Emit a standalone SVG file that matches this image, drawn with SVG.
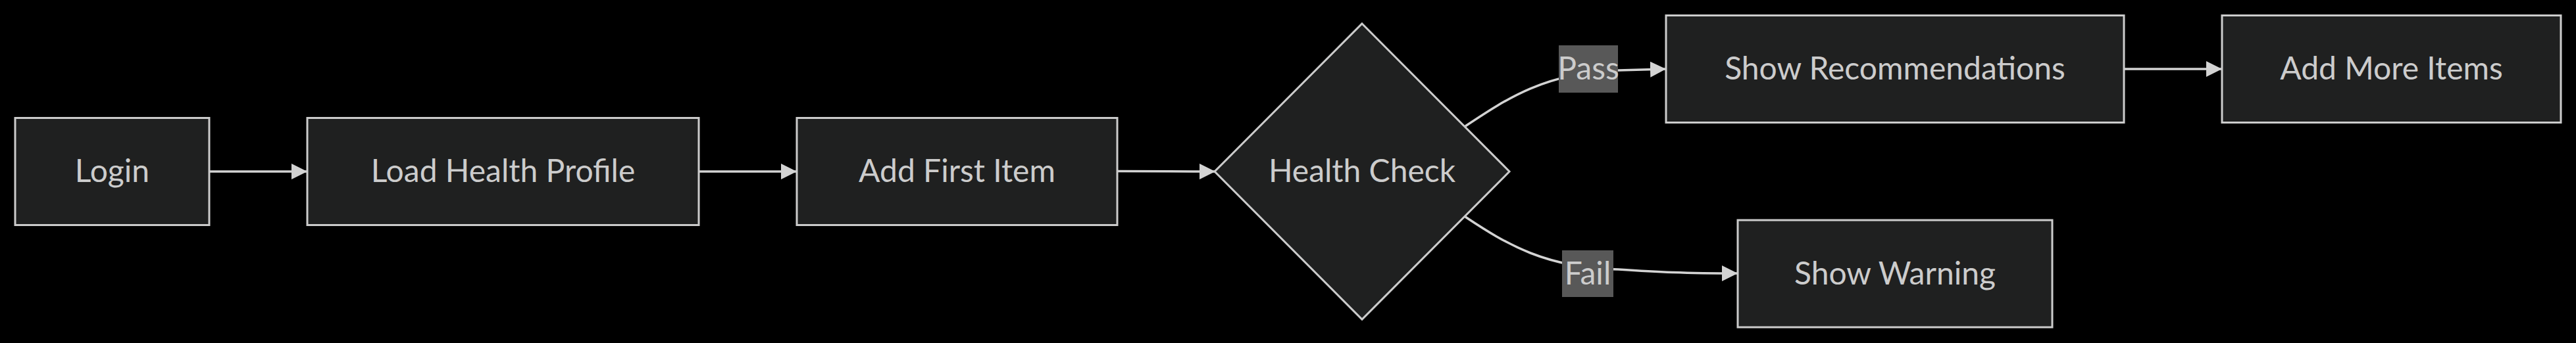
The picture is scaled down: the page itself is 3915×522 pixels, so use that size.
<svg xmlns="http://www.w3.org/2000/svg" width="3915" height="522" viewBox="0 0 3915 522">
<style>
.bg{fill:#000}
.node{fill:#1f2020;stroke:#cccccc;stroke-width:3}
.txt{font-family:Lato,"Liberation Sans",sans-serif;font-size:48px;fill:#cccccc;text-anchor:middle}
.edge{fill:none;stroke:#d3d3d3;stroke-width:3.5}
.lbl{fill:#585858}
</style>
<defs>
<marker id="arrow" viewBox="0 0 10 10" refX="10" refY="5" markerUnits="userSpaceOnUse" markerWidth="24" markerHeight="24" orient="auto">
<path d="M0,0 L10,5 L0,10 z" fill="#d3d3d3"/>
</marker>
</defs>
<rect class="bg" x="0" y="0" width="3915" height="522"/>
<g id="connectors">
<path class="edge" d="M318,261 L467,261" marker-end="url(#arrow)"/>
<path class="edge" d="M1062,261 L1211,261" marker-end="url(#arrow)"/>
<path class="edge" d="M1698,260.5 C1760,260.5 1800,261 1847,261" marker-end="url(#arrow)"/>
<path class="edge" d="M2227,192 C2290,150 2350,110 2460,107 L2532,105" marker-end="url(#arrow)"/>
<path class="edge" d="M2227,330 C2290,372 2350,408 2460,410 C2520,414 2560,416 2641,416" marker-end="url(#arrow)"/>
<path class="edge" d="M3228,105 L3377,105" marker-end="url(#arrow)"/>
</g>
<g id="label-pass">
<rect class="lbl" x="2369" y="69" width="90" height="72"/>
<text class="txt" x="2414" y="121">Pass</text>
</g>
<g id="label-fail">
<rect class="lbl" x="2374" y="381" width="78" height="71"/>
<text class="txt" x="2413" y="432.5">Fail</text>
</g>
<g id="node-login">
<rect class="node" x="23" y="179.5" width="295" height="163"/>
<text class="txt" x="170.5" y="277">Login</text>
</g>
<g id="node-load-health-profile">
<rect class="node" x="467" y="179.5" width="595" height="163"/>
<text class="txt" x="764.5" y="277">Load Health Profile</text>
</g>
<g id="node-add-first-item">
<rect class="node" x="1211" y="179.5" width="487" height="163"/>
<text class="txt" x="1454.5" y="277">Add First Item</text>
</g>
<g id="node-health-check">
<polygon class="node" points="2070,36 2294,261 2070,486 1846,261"/>
<text class="txt" x="2070" y="277">Health Check</text>
</g>
<g id="node-show-recommendations">
<rect class="node" x="2532" y="23.5" width="696" height="163"/>
<text class="txt" x="2880" y="121">Show Recommendations</text>
</g>
<g id="node-add-more-items">
<rect class="node" x="3377" y="23.5" width="515" height="163"/>
<text class="txt" x="3634.5" y="121">Add More Items</text>
</g>
<g id="node-show-warning">
<rect class="node" x="2641" y="335" width="478" height="163"/>
<text class="txt" x="2880" y="432.5">Show Warning</text>
</g>
</svg>
